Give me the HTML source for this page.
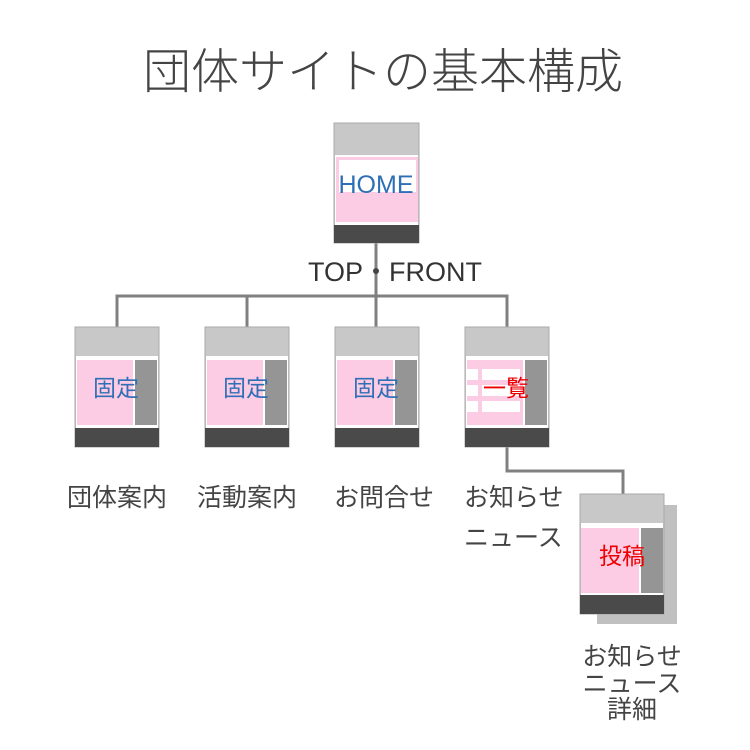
<!DOCTYPE html>
<html><head><meta charset="utf-8"><style>
html,body{margin:0;padding:0;background:#fff;width:750px;height:750px;overflow:hidden}
svg text{font-family:"Liberation Sans","Noto Sans CJK JP",sans-serif}
</style></head><body>
<svg width="750" height="750" viewBox="0 0 750 750" xmlns="http://www.w3.org/2000/svg">
<text x="383" y="88" text-anchor="middle" font-size="48" fill="#444" font-weight="300">団体サイトの基本構成</text>
<g stroke="#808080" stroke-width="3" fill="none">
<line x1="376" y1="243" x2="376" y2="327"/>
<polyline points="117,327 117,296 507,296 507,327"/>
<line x1="247" y1="296" x2="247" y2="327"/>
<polyline points="507,447 507,471 623,471 623,494"/>
</g>
<circle cx="376" cy="271" r="3" fill="#444"/>
<text x="363" y="281" text-anchor="end" font-size="27" fill="#333">TOP</text>
<text x="389" y="281" font-size="27" fill="#333">FRONT</text>
<!-- HOME -->
<rect x="334" y="123" width="85" height="120" fill="#c8c8c8" stroke="#aaa"/>
<rect x="335" y="155" width="83" height="70" fill="#fff"/>
<rect x="336" y="157" width="82" height="65" fill="#fccbe4"/>
<rect x="339" y="160" width="77" height="32" fill="#fff"/>
<rect x="334" y="225" width="85" height="18" fill="#4a4a4a"/>
<text x="376" y="193" text-anchor="middle" font-size="25" fill="#2f6fb5">HOME</text>
<!-- middle pages -->
<g id="p">
<rect x="75" y="327" width="84" height="120" fill="#c8c8c8" stroke="#aaa"/>
<rect x="76" y="356" width="82" height="72" fill="#fff"/>
<rect x="77" y="360" width="56" height="65" fill="#fccbe4"/>
<rect x="135" y="360" width="22" height="65" fill="#959595"/>
<rect x="75" y="428" width="84" height="19" fill="#4a4a4a"/>
</g>
<use href="#p" x="130"/><use href="#p" x="260"/><use href="#p" x="390"/>
<g fill="#fff">
<rect x="467" y="369" width="11" height="11"/><rect x="482" y="369" width="38" height="11"/>
<rect x="467" y="385" width="11" height="11"/><rect x="482" y="385" width="38" height="11"/>
<rect x="467" y="401" width="11" height="11"/><rect x="482" y="401" width="38" height="11"/>
</g>
<g font-size="23" text-anchor="middle" fill="#2f6fb5">
<text x="116" y="396">固定</text><text x="246" y="396">固定</text><text x="376" y="396">固定</text>
</g>
<text x="506" y="396" text-anchor="middle" font-size="23" fill="#e00">一覧</text>
<g font-size="25" fill="#444" text-anchor="middle">
<text x="117" y="506">団体案内</text><text x="247" y="506">活動案内</text><text x="384" y="506">お問合せ</text>
<text x="632" y="665">お知らせ</text><text x="632" y="692">ニュース</text><text x="632" y="718">詳細</text>
</g>
<g font-size="25" fill="#444">
<text x="464" y="506">お知らせ</text><text x="464" y="546">ニュース</text>
</g>
<!-- post -->
<rect x="597" y="505" width="80" height="119" fill="#c0c0c0"/>
<rect x="580" y="494" width="84" height="120" fill="#c8c8c8" stroke="#aaa"/>
<rect x="581" y="523" width="82" height="72" fill="#fff"/>
<rect x="581" y="528" width="58" height="65" fill="#fccbe4"/>
<rect x="641" y="528" width="22" height="65" fill="#959595"/>
<rect x="580" y="595" width="84" height="19" fill="#4a4a4a"/>
<text x="622" y="564" text-anchor="middle" font-size="23" fill="#e00">投稿</text>
</svg>
</body></html>
